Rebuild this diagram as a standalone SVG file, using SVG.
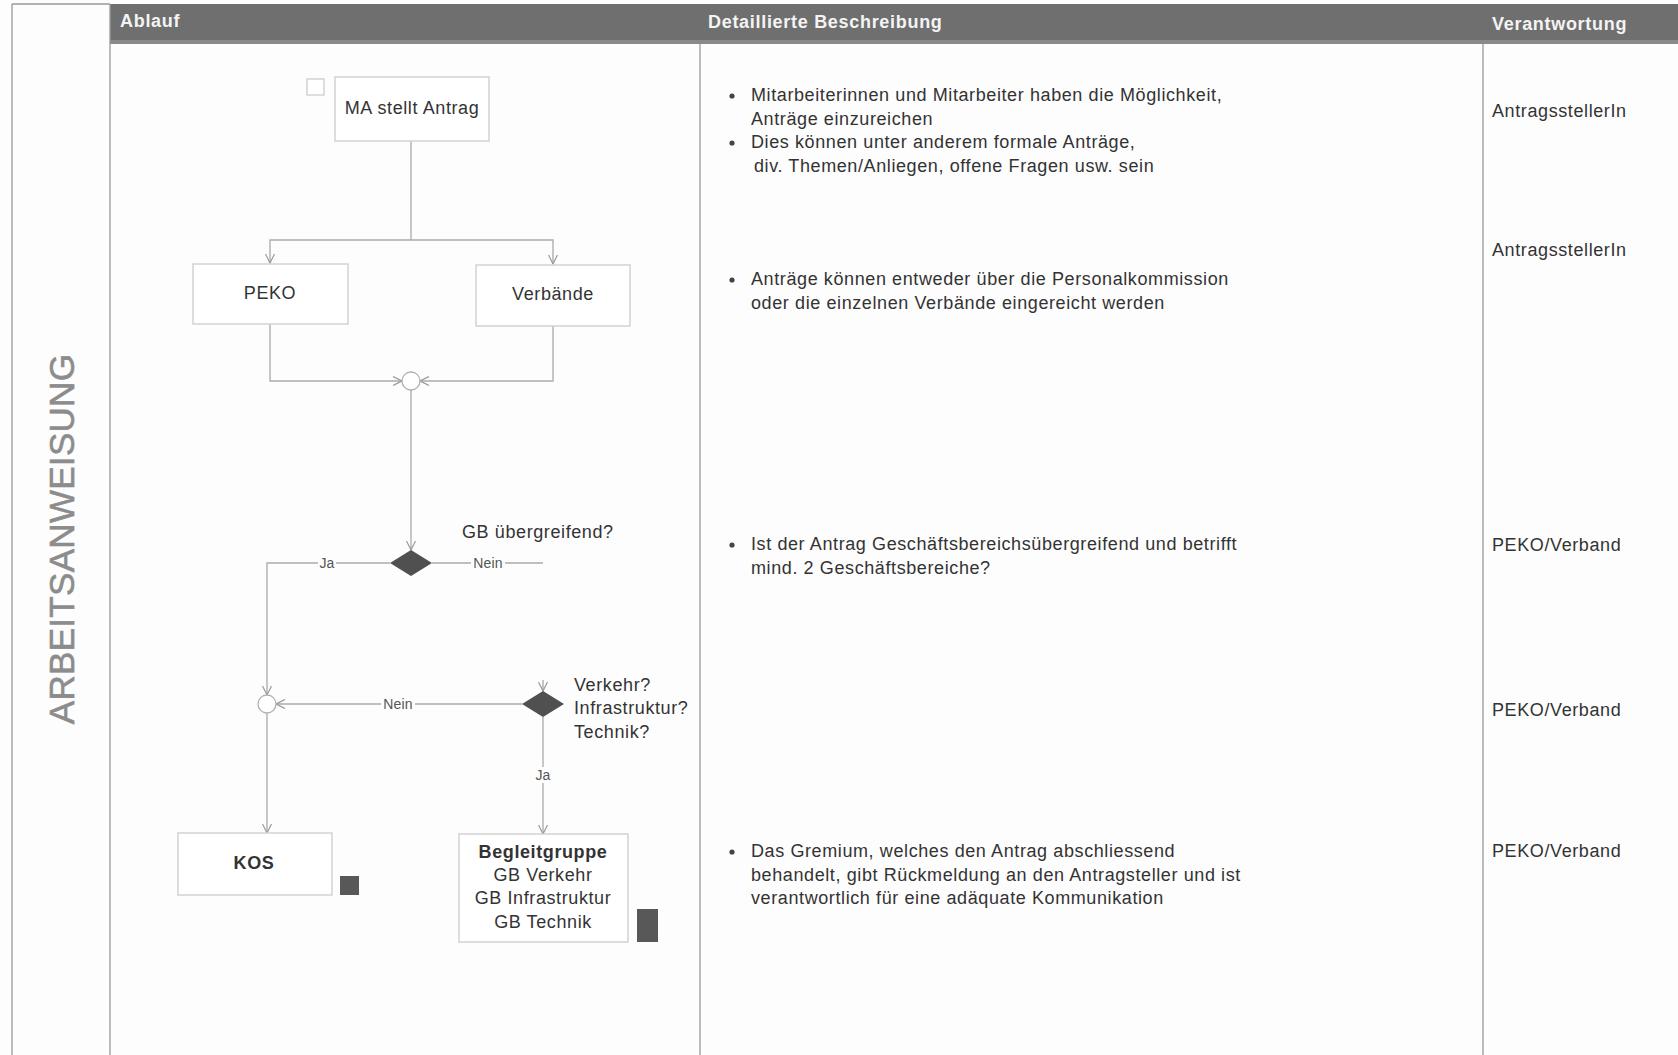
<svg xmlns="http://www.w3.org/2000/svg" width="1678" height="1055" viewBox="0 0 1678 1055">
<defs>
<style>
.t{font-family:"Liberation Sans",Arial,sans-serif;font-size:18px;fill:#333;letter-spacing:0.6px}
.h{font-family:"Liberation Sans",Arial,sans-serif;font-size:18px;font-weight:bold;fill:#f4f4f4;letter-spacing:0.7px}
.c{text-anchor:middle}
.lbl{font-family:"Liberation Sans",Arial,sans-serif;font-size:14px;fill:#555;text-anchor:middle;letter-spacing:0.2px}
.box{fill:#fff;stroke:#d2d2d2;stroke-width:1.5}
.con{fill:none;stroke:#aaa;stroke-width:1.3}
.dia{fill:#505050}
.sq{fill:#585858}
.div{stroke:#999;stroke-width:1.3}
.circ{fill:#fff;stroke:#b0b0b0;stroke-width:1.3}
</style>
<marker id="arr" viewBox="0 0 10 10" refX="9" refY="5" markerWidth="10" markerHeight="10" markerUnits="userSpaceOnUse" orient="auto">
<path d="M0,0.5 L9,5 L0,9.5" fill="none" stroke="#999" stroke-width="1.2"/>
</marker>
</defs>
<rect x="0" y="0" width="1678" height="1055" fill="#fdfdfd"/>

<g id="frame">
<rect x="110" y="4" width="1568" height="40" fill="#6f6f6f"/>
<rect x="110" y="40" width="1568" height="4" fill="#8a8a8a"/>
<line class="div" x1="12" y1="4" x2="110" y2="4"/>
<line class="div" x1="12" y1="4" x2="12" y2="1055"/>
<line class="div" x1="110" y1="4" x2="110" y2="1055"/>
<line class="div" x1="700" y1="44" x2="700" y2="1055"/>
<line class="div" x1="1483" y1="44" x2="1483" y2="1055"/>
<text class="h" x="120" y="27">Ablauf</text>
<text class="h" x="708" y="28">Detaillierte Beschreibung</text>
<text class="h" x="1492" y="30">Verantwortung</text>
<text x="0" y="0" transform="translate(74,539) rotate(-90)" font-family="Liberation Sans,Arial,sans-serif" font-size="35" fill="#8c8c8c" stroke="#8c8c8c" stroke-width="0.6" text-anchor="middle" letter-spacing="0.3">ARBEITSANWEISUNG</text>
</g>

<g id="connectors">
<path class="con" d="M411,141 V240"/>
<path class="con" d="M411,240 H270 V263" marker-end="url(#arr)"/>
<path class="con" d="M411,240 H553 V264" marker-end="url(#arr)"/>
<path class="con" d="M270,324 V381 H402" marker-end="url(#arr)"/>
<path class="con" d="M553,326 V381 H420" marker-end="url(#arr)"/>
<path class="con" d="M411,390 V550" marker-end="url(#arr)"/>
<path class="con" d="M390,563 H267 V695" marker-end="url(#arr)"/>
<path class="con" d="M432,563 H543"/>
<path class="con" d="M543,680 V691" marker-end="url(#arr)"/>
<path class="con" d="M522,704 H276" marker-end="url(#arr)"/>
<path class="con" d="M267,713 V833" marker-end="url(#arr)"/>
<path class="con" d="M543,717 V834" marker-end="url(#arr)"/>
<rect x="318" y="555" width="18" height="16" fill="#fdfdfd"/>
<text class="lbl" x="327" y="568">Ja</text>
<rect x="471" y="555" width="34" height="16" fill="#fdfdfd"/>
<text class="lbl" x="488" y="568">Nein</text>
<rect x="381" y="696" width="34" height="16" fill="#fdfdfd"/>
<text class="lbl" x="398" y="709">Nein</text>
<rect x="534" y="767" width="18" height="16" fill="#fdfdfd"/>
<text class="lbl" x="543" y="780">Ja</text>
</g>

<g id="n-ma">
<rect x="307" y="79" width="17" height="16" fill="#fff" stroke="#ccc" stroke-width="1.3"/>
<rect class="box" x="335" y="77" width="154" height="64"/>
<text class="t c" x="412" y="114">MA stellt Antrag</text>
</g>
<g id="n-peko">
<rect class="box" x="193" y="264" width="155" height="60"/>
<text class="t c" x="270" y="299">PEKO</text>
</g>
<g id="n-verbaende">
<rect class="box" x="476" y="265" width="154" height="61"/>
<text class="t c" x="553" y="300">Verbände</text>
</g>
<g id="n-merge1">
<circle class="circ" cx="411" cy="381" r="9"/>
</g>
<g id="n-gb">
<path class="dia" d="M411,550 L432,563 L411,576 L390,563 Z"/>
<text class="t" x="462" y="538">GB übergreifend?</text>
</g>
<g id="n-merge2">
<circle class="circ" cx="267" cy="704" r="9"/>
</g>
<g id="n-vit">
<path class="dia" d="M543,691 L564,704 L543,717 L522,704 Z"/>
<text class="t" x="574" y="691">Verkehr?</text>
<text class="t" x="574" y="714">Infrastruktur?</text>
<text class="t" x="574" y="738">Technik?</text>
</g>
<g id="n-kos">
<rect class="box" x="178" y="833" width="154" height="62"/>
<text class="t c" x="254" y="869" font-weight="bold">KOS</text>
<rect class="sq" x="340" y="876" width="19" height="19"/>
</g>
<g id="n-begleit">
<rect class="box" x="459" y="834" width="169" height="108"/>
<text class="t c" x="543" y="858" font-weight="bold">Begleitgruppe</text>
<text class="t c" x="543" y="881">GB Verkehr</text>
<text class="t c" x="543" y="904">GB Infrastruktur</text>
<text class="t c" x="543" y="928">GB Technik</text>
<rect class="sq" x="637" y="909" width="21" height="33"/>
</g>

<g id="description">
<circle cx="732" cy="96" r="2.6" fill="#444"/>
<text class="t" x="751" y="101">Mitarbeiterinnen und Mitarbeiter haben die Möglichkeit,</text>
<text class="t" x="751" y="125">Anträge einzureichen</text>
<circle cx="732" cy="143" r="2.6" fill="#444"/>
<text class="t" x="751" y="148">Dies können unter anderem formale Anträge,</text>
<text class="t" x="754" y="172">div. Themen/Anliegen, offene Fragen usw. sein</text>
<circle cx="732" cy="280" r="2.6" fill="#444"/>
<text class="t" x="751" y="285">Anträge können entweder über die Personalkommission</text>
<text class="t" x="751" y="309">oder die einzelnen Verbände eingereicht werden</text>
<circle cx="732" cy="545" r="2.6" fill="#444"/>
<text class="t" x="751" y="550">Ist der Antrag Geschäftsbereichsübergreifend und betrifft</text>
<text class="t" x="751" y="574">mind. 2 Geschäftsbereiche?</text>
<circle cx="732" cy="852" r="2.6" fill="#444"/>
<text class="t" x="751" y="857">Das Gremium, welches den Antrag abschliessend</text>
<text class="t" x="751" y="881">behandelt, gibt Rückmeldung an den Antragsteller und ist</text>
<text class="t" x="751" y="904">verantwortlich für eine adäquate Kommunikation</text>
</g>

<g id="responsibility">
<text class="t" x="1492" y="117">AntragsstellerIn</text>
<text class="t" x="1492" y="256">AntragsstellerIn</text>
<text class="t" x="1492" y="551">PEKO/Verband</text>
<text class="t" x="1492" y="716">PEKO/Verband</text>
<text class="t" x="1492" y="857">PEKO/Verband</text>
</g>
</svg>
